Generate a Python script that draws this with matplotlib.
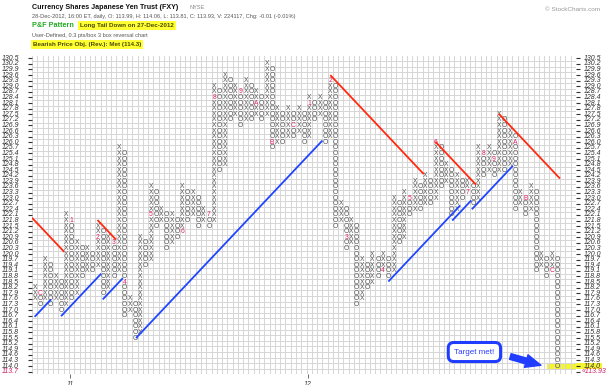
import matplotlib
matplotlib.use("Agg")
import matplotlib.pyplot as plt
from matplotlib.transforms import blended_transform_factory
from matplotlib.patches import FancyArrowPatch

plt.rcParams['font.family'] = ['Liberation Sans', 'DejaVu Sans']

# ---------------- Point & Figure data (0.3 pts/box, 3 box reversal) ----------------
box_size = 0.3
price_min = 113.7
price_max = 130.5
n_grid_cols = 103

col_kind = "XO" * 50
col_low = [
    117.6, 117.3, 117.6, 117.3, 117.6, 117.0, 117.3, 117.6, 117.9, 118.8,
    119.1, 119.1, 119.4, 117.9, 118.2, 118.8, 119.1, 116.7, 117.0, 115.5,
    115.8, 119.4, 119.7, 121.5, 121.8, 120.3, 120.6, 120.9, 121.2, 121.8,
    122.1, 121.5, 121.8, 121.5, 121.8, 124.5, 124.8, 127.2, 127.5, 126.9,
    127.2, 127.2, 127.5, 127.2, 127.5, 125.7, 126.0, 126.0, 126.3, 126.3,
    126.6, 126.0, 126.3, 127.2, 127.5, 126.0, 126.3, 121.5, 121.8, 120.3,
    120.6, 117.3, 117.6, 118.2, 118.5, 118.8, 119.1, 118.8, 119.1, 120.6,
    120.9, 122.1, 122.4, 122.4, 122.7, 122.7, 123.0, 123.6, 123.9, 122.1,
    122.4, 123.0, 123.3, 122.7, 123.0, 124.2, 124.5, 124.2, 124.5, 124.5,
    124.8, 122.4, 122.7, 122.1, 122.4, 119.1, 119.4, 118.8, 119.1, 114.0,
]
col_high = [
    118.2, 117.9, 119.7, 119.4, 118.8, 118.5, 122.1, 121.8, 120.6, 120.3,
    120.3, 120.0, 121.5, 121.2, 120.9, 120.6, 125.7, 125.4, 117.6, 117.3,
    120.9, 120.6, 123.6, 123.3, 122.4, 122.1, 122.1, 121.8, 123.6, 123.3,
    123.3, 123.0, 122.4, 122.1, 129.0, 128.7, 129.6, 129.3, 129.0, 128.7,
    129.3, 129.0, 128.7, 128.4, 130.2, 129.9, 127.8, 127.5, 127.8, 127.5,
    127.8, 127.5, 128.4, 128.1, 128.4, 128.1, 129.3, 129.0, 122.7, 122.4,
    121.8, 121.5, 119.7, 119.4, 120.0, 119.7, 120.0, 119.7, 123.0, 122.7,
    123.3, 123.0, 123.9, 123.6, 124.2, 123.9, 126.0, 125.7, 124.8, 124.5,
    124.2, 123.9, 123.9, 123.6, 125.7, 125.4, 125.7, 125.4, 127.5, 127.2,
    126.6, 126.3, 123.3, 123.0, 123.6, 123.3, 120.0, 119.7, 120.0, 119.7,
]

# first box plotted in each month (1-9, A=Oct, B=Nov, C=Dec)
month_col = [1, 7, 12, 15, 17, 22, 28, 33, 34, 39, 42, 45, 49,
             52, 56, 59, 66, 71, 76, 82, 85, 87, 91, 93, 98]
month_price = [117.9, 121.8, 120.9, 120.6, 118.5, 122.1, 121.2, 122.1, 128.4, 128.7, 128.1, 126.0, 126.9,
               128.1, 129.3, 120.9, 119.1, 123.0, 126.0, 123.3, 125.4, 125.1, 126.0, 123.0, 119.1]
month_label = ["C", "1", "2", "3", "4", "5", "6", "7", "8", "9", "A", "B", "C",
               "1", "2", "3", "4", "5", "6", "7", "8", "9", "A", "B", "C"]

year_col = [7, 52]
year_label = ["11", "12"]

# trend lines: (start column, start price, end column, end price)
resistance_lines = [
    (-0.5, 121.95, 5.6, 120.12),
    (11.9, 121.83, 15.4, 120.78),
    (56.0, 129.60, 73.7, 124.29),
    (75.9, 126.03, 83.6, 123.72),
    (87.9, 127.53, 99.5, 124.05),
]
support_lines = [
    (0.0, 116.64, 3.1, 117.57),
    (5.0, 116.67, 12.6, 118.95),
    (12.9, 117.57, 16.7, 118.71),
    (19.2, 115.50, 54.5, 126.09),
    (67.0, 118.53, 80.6, 122.61),
    (79.1, 121.80, 82.7, 122.88),
    (82.8, 122.40, 90.6, 124.74),
]

last_close = 113.93
met_level = 114.0

# ---------------- figure ----------------
W, H = 615, 385
fig = plt.figure(figsize=(W / 100, H / 100), dpi=100)
fig.patch.set_facecolor("white")

grid_left, grid_right, grid_top, grid_bottom = 32.0, 575.8, 55.5, 374.4
ax = fig.add_axes([grid_left / W, (H - grid_bottom) / H,
                   (grid_right - grid_left) / W, (grid_bottom - grid_top) / H])
ax.set_xlim(-0.5, n_grid_cols - 0.5)
half = box_size / 2
ax.set_ylim(price_min - half, price_max + half)
for s in ax.spines.values():
    s.set_visible(False)

n_levels = int(round((price_max - price_min) / box_size)) + 1
levels = [round(price_min + i * box_size, 1) for i in range(n_levels)]

grid_color = "#d6d6d6"
ax.vlines([i - 0.5 for i in range(n_grid_cols + 1)], price_min - half, price_max + half,
          colors=grid_color, lw=0.7, zorder=1)
ax.hlines([p - half for p in levels] + [price_max + half], -0.5, n_grid_cols - 0.5,
          colors=grid_color, lw=0.7, zorder=1)

# y ticks on both sides
ax.set_yticks(levels)
ax.tick_params(axis="y", left=True, right=True, length=3, width=0.8, color="#333333",
               labelleft=False, labelright=False, direction="out")
ax.set_xticks([c - 0.3 for c in year_col])
ax.set_xticklabels(year_label, fontsize=5, style="italic", color="#333333")
ax.tick_params(axis="x", length=3, width=0.6, color="#555555", pad=1.5)

# price labels
tl = blended_transform_factory(fig.transFigure, ax.transData)
for p in levels:
    col = "#cc2266" if p == price_min else "#333333"
    ax.text(2 / W, p, f"{p:.1f}", transform=tl, fontsize=5, style="italic",
            color=col, va="center", ha="left")
    if p == price_min:
        ax.text(582 / W, p, f"\u00ab{last_close:.2f}", transform=tl, fontsize=5,
                style="italic", color="#cc2266", va="center", ha="left")
    else:
        ax.text(584 / W, p, f"{p:.1f}", transform=tl, fontsize=5, style="italic",
                color="#333333", va="center", ha="left")

# highlight of the met level
ax.add_patch(plt.Rectangle((547 / W, met_level - half), 55 / W, box_size,
                           transform=tl, facecolor="#f4f433", edgecolor="none",
                           clip_on=False, zorder=0.5))

# X / O boxes
marks = {(c, round(p, 1)): lab for c, p, lab in zip(month_col, month_price, month_label)}
for c, (kind, lo, hi) in enumerate(zip(col_kind, col_low, col_high)):
    n = int(round((hi - lo) / box_size)) + 1
    for j in range(n):
        p = round(lo + j * box_size, 1)
        lab = marks.get((c, p))
        if lab is not None:
            ax.text(c, p, lab, ha="center", va="center", fontsize=4.9,
                    color="#dd2266", zorder=3)
        else:
            ax.text(c, p, kind, ha="center", va="center", fontsize=4.9,
                    color="#555555", zorder=3)

# trend lines
for x0, p0, x1, p1 in resistance_lines:
    ax.plot([x0, x1], [p0, p1], color="#ff2a10", lw=1.3, zorder=4, solid_capstyle="butt")
for x0, p0, x1, p1 in support_lines:
    ax.plot([x0, x1], [p0, p1], color="#1f45ff", lw=1.3, zorder=4, solid_capstyle="butt")

# callout
last_col = len(col_kind) - 1
tip = (last_col - 2.6, met_level)
ax.text(83.3, 114.75, "Target met!", ha="center", va="center", fontsize=5.8,
        color="#2a3cff", zorder=6,
        bbox=dict(boxstyle="round,pad=0.75,rounding_size=0.7", fc="white",
                  ec="#1f3cff", lw=2.2))
arrow = FancyArrowPatch((89.6, 114.55), tip,
                        arrowstyle="simple,head_length=1.0,head_width=0.85,tail_width=0.38",
                        mutation_scale=11, color="#1f3cff", zorder=5)
ax.add_patch(arrow)

# header
def ftxt(x, y, s, **kw):
    return fig.text(x / W, 1 - y / H, s, va="baseline", ha="left", **kw)

ftxt(32, 8.6, "Currency Shares Japanese Yen Trust (FXY)", fontsize=5.1,
     fontweight="bold", color="#111111")
ftxt(190, 8.6, "NYSE", fontsize=4.1, color="#888888")
ftxt(32, 17.8, "28-Dec-2012, 16:00 ET, daily, O: 113.99, H: 114.06, L: 113.81, C: 113.93, "
     "V: 224117, Chg: -0.01 (-0.01%)", fontsize=4.1, color="#555555")
ftxt(32, 27.3, "P&F Pattern", fontsize=5.2, fontweight="bold", color="#22aa22")
ftxt(80, 27.0, "Long Tail Down on 27-Dec-2012", fontsize=4.5, fontweight="bold",
     color="#4a4a00", bbox=dict(facecolor="#ffff33", edgecolor="none", pad=1.2))
ftxt(32, 36.5, "User-Defined, 0.3 pts/box 3 box reversal chart", fontsize=4.1,
     color="#555555")
ftxt(33, 46.0, "Bearish Price Obj. (Rev.): Met (114.3)", fontsize=4.5, fontweight="bold",
     color="#4a4a00", bbox=dict(facecolor="#ffff33", edgecolor="none", pad=1.2))
ftxt(545, 11.0, "\u00a9 StockCharts.com", fontsize=4.6, color="#999999")

fig.savefig("out.png", dpi=100, facecolor="white")
